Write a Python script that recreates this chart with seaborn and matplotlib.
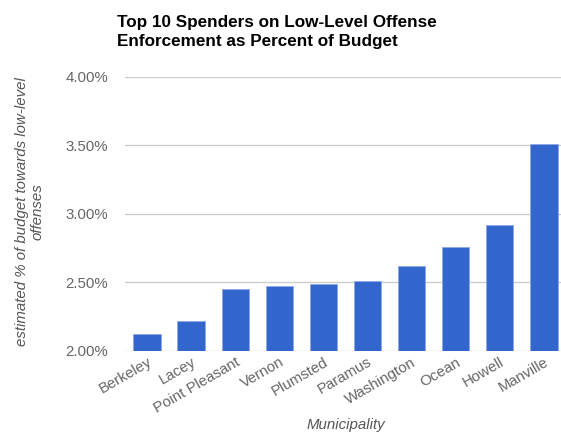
import matplotlib
matplotlib.use("Agg")
import matplotlib.pyplot as plt
import matplotlib.ticker as mticker
import seaborn as sns
import pandas as pd

municipalities = ["Berkeley", "Lacey", "Point Pleasant", "Vernon", "Plumsted",
                  "Paramus", "Washington", "Ocean", "Howell", "Manville"]
budget_pct = [2.12, 2.215, 2.45, 2.47, 2.49, 2.51, 2.62, 2.76, 2.92, 3.51]
y_ticks = [2.0, 2.5, 3.0, 3.5, 4.0]

df = pd.DataFrame({"Municipality": municipalities, "pct": budget_pct})

sns.set_theme(style="white")
plt.rcParams["font.family"] = ["Liberation Sans", "DejaVu Sans"]

W, H = 561, 432
fig = plt.figure(figsize=(W / 100, H / 100), dpi=100)
ax = fig.add_axes([0.2228, 0.188, 0.786, 0.6345])

sns.barplot(data=df, x="Municipality", y="pct", color="#3366CC",
            saturation=1, width=0.62, ax=ax, zorder=3,
            edgecolor="#8fa9e6", linewidth=0.6)

ax.set_ylim(2.0, 4.0)
ax.set_xlim(-0.5, len(municipalities) - 0.5)
ax.set_yticks(y_ticks)
ax.yaxis.set_major_formatter(mticker.FuncFormatter(lambda v, p: f"{v:.2f}%"))
ax.grid(axis="y", color="#cccccc", linewidth=1.0, zorder=0)
ax.grid(axis="x", visible=False)
for s in ax.spines.values():
    s.set_visible(False)

ax.tick_params(axis="y", length=0, pad=12, labelsize=10.8, labelcolor="#666666")
ax.tick_params(axis="x", length=0, pad=3, labelsize=10.8, labelcolor="#666666")
for lbl in ax.get_xticklabels():
    lbl.set_rotation(30)
    lbl.set_ha("right")
    lbl.set_rotation_mode("anchor")

ax.set_xlabel("")
ax.set_ylabel("")

fig.text(346 / W, 1 - 425 / H, "Municipality", fontsize=10.8, style="italic",
         color="#555555", ha="center", va="center")
fig.text(30 / W, 1 - 212 / H, "estimated % of budget towards low-level\noffenses",
         fontsize=10.8, style="italic", color="#555555", ha="center", va="center",
         rotation=90, linespacing=1.15, multialignment="center")

fig.text(117 / W, 1 - 15 / H, "Top 10 Spenders on Low-Level Offense\nEnforcement as Percent of Budget",
         fontsize=12.3, fontweight="bold", color="#000000", ha="left", va="top",
         linespacing=1.3)

fig.savefig("out.png", dpi=100)
